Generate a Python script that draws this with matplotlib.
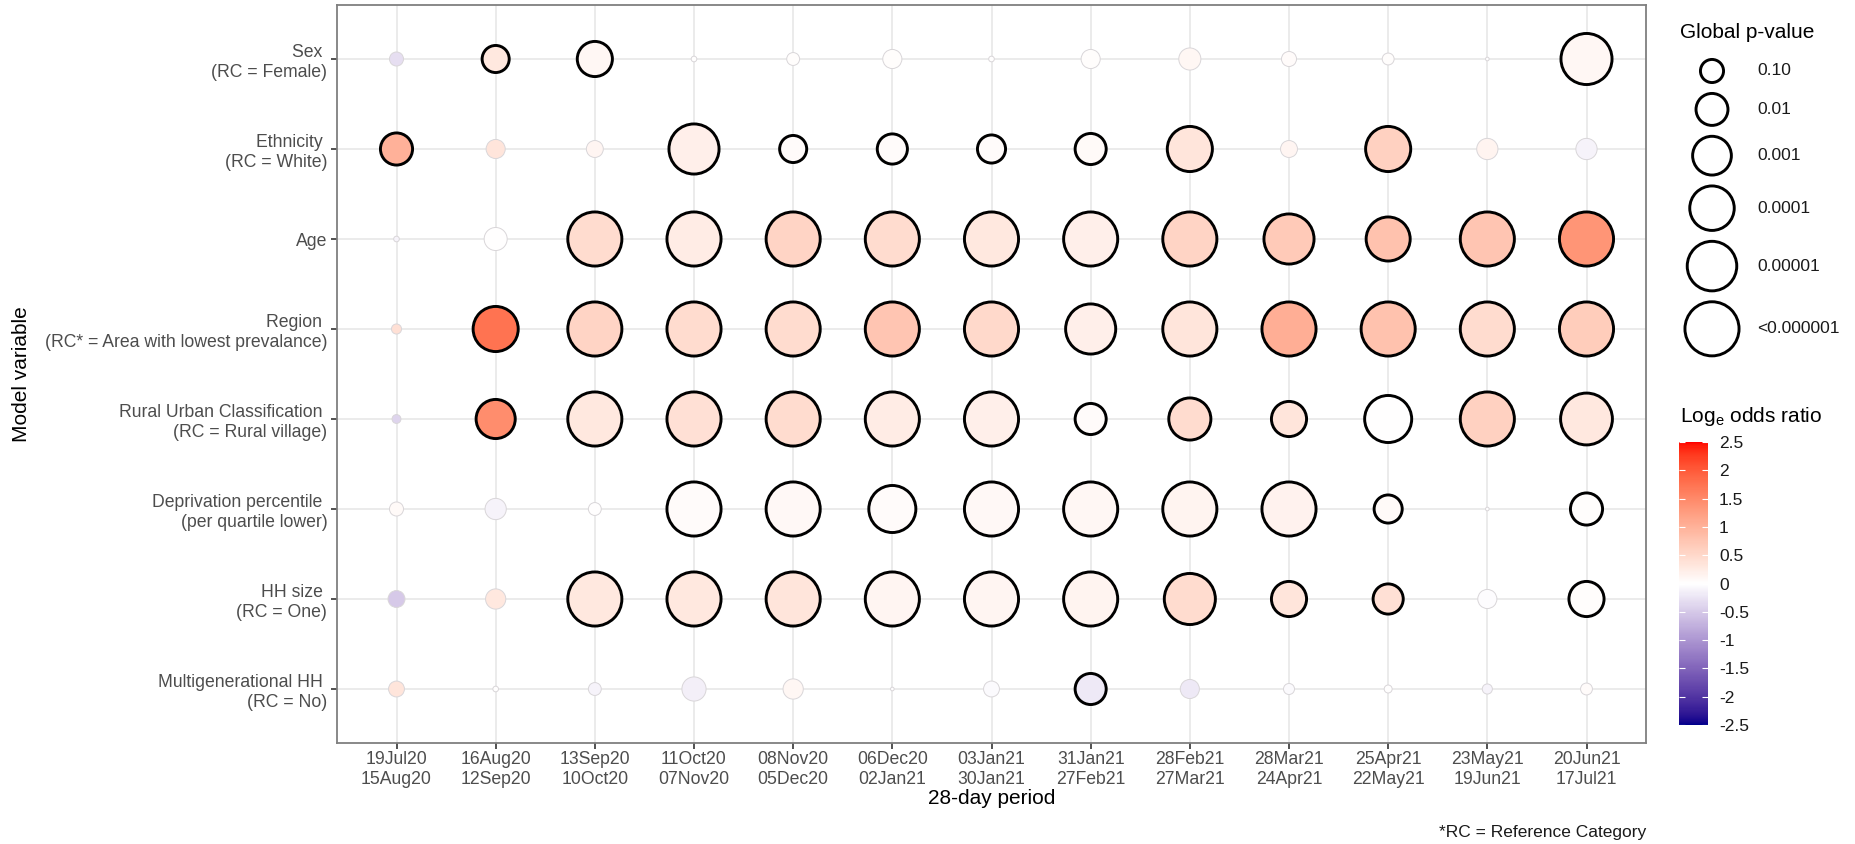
import numpy as np
import matplotlib
matplotlib.use("Agg")
import matplotlib.pyplot as plt
from matplotlib.colors import ListedColormap, Normalize

plt.rcParams["font.family"] = ["Liberation Sans", "DejaVu Sans"]
plt.rcParams["mathtext.fontset"] = "custom"
plt.rcParams["mathtext.rm"] = "Liberation Sans"

# ---- data ----
periods = ["19Jul20\n15Aug20", "16Aug20\n12Sep20", "13Sep20\n10Oct20", "11Oct20\n07Nov20",
           "08Nov20\n05Dec20", "06Dec20\n02Jan21", "03Jan21\n30Jan21", "31Jan21\n27Feb21",
           "28Feb21\n27Mar21", "28Mar21\n24Apr21", "25Apr21\n22May21", "23May21\n19Jun21",
           "20Jun21\n17Jul21"]

variables = ["Sex \n(RC = Female)", "Ethnicity \n(RC = White)", "Age",
             "Region \n(RC* = Area with lowest prevalance)",
             "Rural Urban Classification \n(RC = Rural village)",
             "Deprivation percentile \n(per quartile lower)",
             "HH size \n(RC = One)", "Multigenerational HH \n(RC = No)"]

# global p-values per variable, one per period
sex_p = [0.58, 0.039, 0.0036, 0.98, 0.65, 0.30, 0.98, 0.30, 0.18, 0.52, 0.71, 1.0, 4.7e-6]
eth_p = [0.0095, 0.30, 0.41, 7.6e-6, 0.039, 0.017, 0.030, 0.013, 7.6e-5, 0.41, 7.6e-5, 0.21, 0.21]
age_p = [0.98, 0.15, 1e-7, 1e-7, 1e-7, 1e-7, 1e-7, 1e-7, 1e-7, 7.6e-6, 1.2e-4, 1e-7, 1e-7]
reg_p = [0.81, 7.6e-5, 1e-7, 1e-7, 1e-7, 1e-7, 1e-7, 7.6e-6, 1e-7, 1e-7, 1e-7, 1e-7, 1e-7]
rur_p = [0.87, 8.7e-4, 1e-7, 1e-7, 1e-7, 1e-7, 1e-7, 0.013, 2.7e-4, 0.0036, 3.2e-5, 1e-7, 3.2e-6]
dep_p = [0.58, 0.21, 0.65, 1e-7, 1e-7, 3.2e-5, 1e-7, 1e-7, 1e-7, 1e-7, 0.030, 1.0, 0.0095]
hhs_p = [0.41, 0.25, 1e-7, 1e-7, 1e-7, 1e-7, 1e-7, 1e-7, 4.7e-6, 0.0036, 0.017, 0.30, 0.0036]
mgh_p = [0.47, 0.98, 0.65, 0.12, 0.25, 1.0, 0.47, 0.013, 0.30, 0.76, 0.91, 0.81, 0.71]

# log odds ratios
sex_or = [-0.3, 0.3, 0.1, 0.0, 0.03, 0.02, 0.0, 0.03, 0.1, 0.05, 0.03, 0.0, 0.1]
eth_or = [1.0, 0.35, 0.12, 0.2, 0.05, 0.05, 0.05, 0.07, 0.35, 0.12, 0.6, 0.15, -0.1]
age_or = [-0.1, 0.0, 0.45, 0.25, 0.55, 0.45, 0.3, 0.2, 0.55, 0.7, 0.8, 0.75, 1.35]
reg_or = [0.4, 1.75, 0.55, 0.45, 0.45, 0.75, 0.5, 0.2, 0.35, 1.05, 0.8, 0.45, 0.65]
rur_or = [-0.4, 1.45, 0.3, 0.4, 0.45, 0.25, 0.2, 0.05, 0.45, 0.35, 0.0, 0.6, 0.3]
dep_or = [0.06, -0.1, 0.0, 0.05, 0.08, 0.04, 0.08, 0.1, 0.14, 0.17, 0.07, 0.0, 0.03]
hhs_or = [-0.5, 0.3, 0.3, 0.3, 0.35, 0.12, 0.12, 0.15, 0.45, 0.35, 0.4, -0.02, 0.02]
mgh_or = [0.35, 0.0, -0.1, -0.15, 0.1, 0.0, -0.05, -0.2, -0.2, -0.05, 0.0, -0.1, 0.05]

legend_p = [0.1, 0.01, 0.001, 0.0001, 0.00001, 0.000001]
legend_labels = ["0.10", "0.01", "0.001", "0.0001", "0.00001", "<0.000001"]
cbar_ticks = [2.5, 2, 1.5, 1, 0.5, 0, -0.5, -1, -1.5, -2, -2.5]


# ---- colour scale: darkblue - white - red, interpolated in Lab like ggplot ----
M = np.array([[0.4124564, 0.3575761, 0.1804375],
              [0.2126729, 0.7151522, 0.0721750],
              [0.0193339, 0.1191920, 0.9503041]])
WHITE = np.array([0.95047, 1.0, 1.08883])


def to_lab(rgb):
    c = np.asarray(rgb, float)
    lin = np.where(c <= 0.04045, c / 12.92, ((c + 0.055) / 1.055) ** 2.4)
    t = (M @ lin) / WHITE
    f = np.where(t > (6 / 29) ** 3, np.cbrt(t), t / (3 * (6 / 29) ** 2) + 4 / 29)
    return np.array([116 * f[1] - 16, 500 * (f[0] - f[1]), 200 * (f[1] - f[2])])


def from_lab(lab):
    fy = (lab[0] + 16) / 116
    f = np.array([fy + lab[1] / 500, fy, fy - lab[2] / 200])
    t = np.where(f > 6 / 29, f ** 3, 3 * (6 / 29) ** 2 * (f - 4 / 29))
    lin = np.clip(np.linalg.solve(M, t * WHITE), 0, 1)
    c = np.where(lin <= 0.0031308, 12.92 * lin, 1.055 * lin ** (1 / 2.4) - 0.055)
    return np.clip(c, 0, 1)


low, mid, high = to_lab([0, 0, 0.545]), to_lab([1, 1, 1]), to_lab([1, 0, 0])
cols = []
for v in np.linspace(0, 1, 256):
    if v < 0.5:
        cols.append(from_lab(low + (mid - low) * v / 0.5))
    else:
        cols.append(from_lab(mid + (high - mid) * (v - 0.5) / 0.5))
cmap = ListedColormap(cols)
norm = Normalize(-2.5, 2.5)


def diam_px(p):
    L = np.clip(-np.log10(np.asarray(p, float)), 0, 6)
    return 4.6 + 52.4 * np.sqrt(L / 6)


PX = 72 / 100  # points per pixel

# ---- figure ----
fig = plt.figure(figsize=(18.56, 8.44), dpi=100)
ax = fig.add_axes([337 / 1856, 1 - 743 / 844, 1309 / 1856, 738 / 844])

pvals = np.array([sex_p, eth_p, age_p, reg_p, rur_p, dep_p, hhs_p, mgh_p])
lors = np.array([sex_or, eth_or, age_or, reg_or, rur_or, dep_or, hhs_or, mgh_or])
yy, xx = np.meshgrid(np.arange(len(variables)), np.arange(len(periods)), indexing="ij")
sig = pvals < 0.05
lw = np.where(sig, 2.1, 0.7)
d = diam_px(pvals)
sizes = ((d - lw / PX) * PX) ** 2
edges = np.where(sig.ravel()[:, None], np.array([[0, 0, 0, 1]]), np.array([[0.85, 0.84, 0.85, 1]]))

ax.scatter(xx.ravel(), yy.ravel(), s=sizes.ravel(), c=lors.ravel(), cmap=cmap, norm=norm,
           edgecolors=edges, linewidths=lw.ravel(), zorder=3)

ax.set_xlim(-0.6, len(periods) - 0.4)
ax.set_ylim(len(variables) - 0.4, -0.6)
ax.set_xticks(range(len(periods)))
ax.set_xticklabels(periods, linespacing=1.2)
ax.set_yticks(range(len(variables)))
ax.set_yticklabels(variables, linespacing=1.2)
ax.tick_params(labelsize=12.7, labelcolor="#4d4d4d", color="#333333", length=4, width=1.2, pad=3)
ax.tick_params(axis="x", pad=2)
ax.grid(True, color="#ebebeb", lw=1.4)
ax.set_axisbelow(True)
for sp in ax.spines.values():
    sp.set_color("#7f7f7f")
    sp.set_linewidth(1.3)
ax.set_xlabel("28-day period", fontsize=15, labelpad=1)
ax.set_ylabel("Model variable", fontsize=15, labelpad=10)

fig.text(1646 / 1856, 1 - 833 / 844, "*RC = Reference Category", ha="right", va="center",
         fontsize=12.5, color="#1a1a1a")

# ---- size legend ----
lax = fig.add_axes([1660 / 1856, 1 - 360 / 844, 196 / 1856, 345 / 844])
lax.set_xlim(1660, 1856)
lax.set_ylim(360, 15)
lax.axis("off")
fig.text(1680 / 1856, 1 - 33 / 844, "Global p-value", ha="left", va="center", fontsize=15)
kd = diam_px(legend_p)
kh = kd + 8
ky = 54 + np.cumsum(kh) - kh / 2
lax.scatter(np.full(len(kd), 1712), ky, s=((kd - 2.9) * PX) ** 2, facecolors="white",
            edgecolors="black", linewidths=2.1, clip_on=False)
for yv, lab in zip(ky, legend_labels):
    lax.text(1757, yv, lab, ha="left", va="center", fontsize=12.5, color="#1a1a1a")

# ---- colour bar ----
cax = fig.add_axes([1679 / 1856, 1 - 725 / 844, 29 / 1856, 283 / 844])
sm = plt.cm.ScalarMappable(norm=norm, cmap=cmap)
cb = fig.colorbar(sm, cax=cax, ticks=cbar_ticks)
cb.outline.set_visible(False)
cb.ax.set_yticklabels([f"{t:g}" for t in cbar_ticks])
cb.ax.yaxis.set_ticks_position("both")
cb.ax.tick_params(direction="in", length=4, width=0.8, color="white", labelsize=12.5,
                  labelcolor="#1a1a1a", pad=8, labelleft=False, labelright=True)
fig.text(1680 / 1856, 1 - 416 / 844, r"Log$_\mathregular{e}$ odds ratio", ha="left",
         va="center", fontsize=15)

fig.savefig("out.png", dpi=100)
